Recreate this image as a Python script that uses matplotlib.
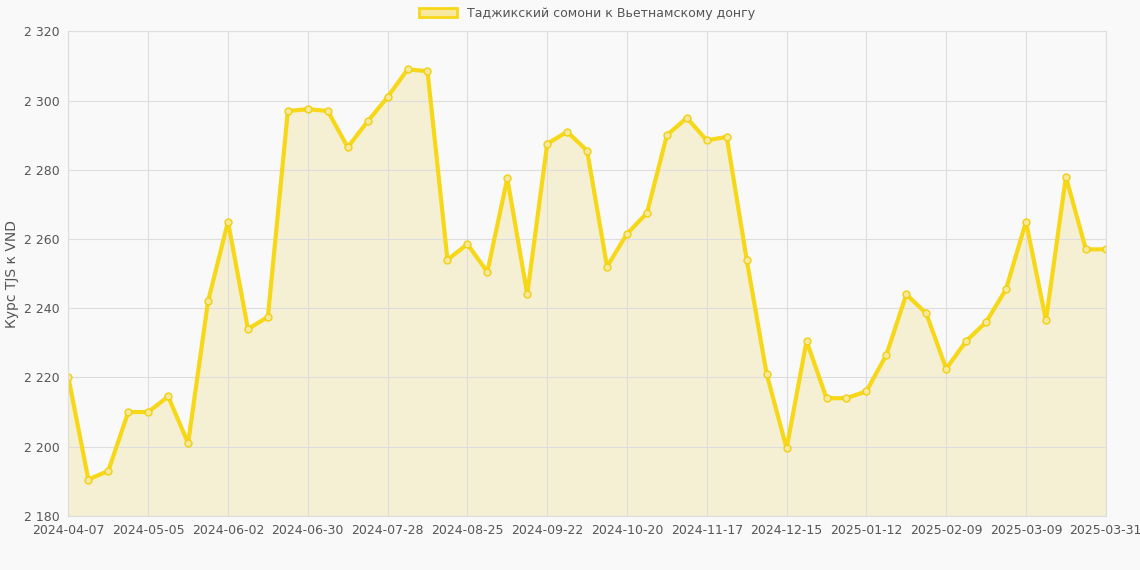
import datetime as dt
import matplotlib.pyplot as plt
from matplotlib.ticker import FuncFormatter

start = dt.date(2024, 4, 7)
dates = [(start + dt.timedelta(weeks=i)).isoformat() for i in range(52)] + ["2025-03-31"]
rates = [2220, 2190.5, 2193, 2210, 2210, 2214.5, 2201, 2242, 2265, 2234,
         2237.5, 2297, 2297.5, 2297, 2286.5, 2294, 2301, 2309, 2308.5, 2254,
         2258.5, 2250.5, 2277.5, 2244, 2287.5, 2291, 2285.5, 2252, 2261.5, 2267.5,
         2290, 2295, 2288.5, 2289.5, 2254, 2221, 2199.5, 2230.5, 2214, 2214,
         2216, 2226.5, 2244, 2238.5, 2222.5, 2230.5, 2236, 2245.5, 2265, 2236.5,
         2278, 2257, 2257]
label = "Таджикский сомони к Вьетнамскому донгу"

fig = plt.figure(figsize=(11.4, 5.7), dpi=100, facecolor="#f9f9f9")
ax = fig.add_axes([0.06, 0.095, 0.91, 0.85], facecolor="#f9f9f9")
x = list(range(len(rates)))
ax.fill_between(x, rates, 2180, color="#f3e8b0", alpha=0.5, linewidth=0)
ax.plot(x, rates, color="#f7d818", lw=3, marker="o", ms=5, mfc="#f7e89a", mec="#f0d010",
        label=label)
ax.set_xlim(0, len(rates) - 1)
ax.set_ylim(2180, 2320)
ax.set_yticks(range(2180, 2321, 20))
ax.yaxis.set_major_formatter(FuncFormatter(lambda v, p: f"{int(v):,}".replace(",", " ")))
ticks = list(range(0, len(rates) - 1, 4)) + [len(rates) - 1]
ax.set_xticks(ticks)
ax.set_xticklabels([dates[i] for i in ticks])
ax.tick_params(colors="#555555", labelsize=9, length=0, pad=6)
ax.grid(color="#dddddd", lw=0.8)
for s in ax.spines.values():
    s.set_color("#dddddd")
ax.set_ylabel("Курс TJS к VND", color="#555555", fontsize=10)
ax.legend(loc="lower center", bbox_to_anchor=(0.5, 1.0), frameon=False, fontsize=9,
          handlelength=3, labelcolor="#555555",
          handler_map=None)
leg = ax.get_legend()
import matplotlib.patches as mpatches
ax.legend(handles=[mpatches.Patch(facecolor="#f7eaa0", edgecolor="#f7d818", lw=2, label=label)],
          loc="lower center", bbox_to_anchor=(0.5, 1.0), frameon=False, fontsize=9,
          handlelength=3, labelcolor="#555555")
fig.savefig("out.png", dpi=100, facecolor=fig.get_facecolor())
